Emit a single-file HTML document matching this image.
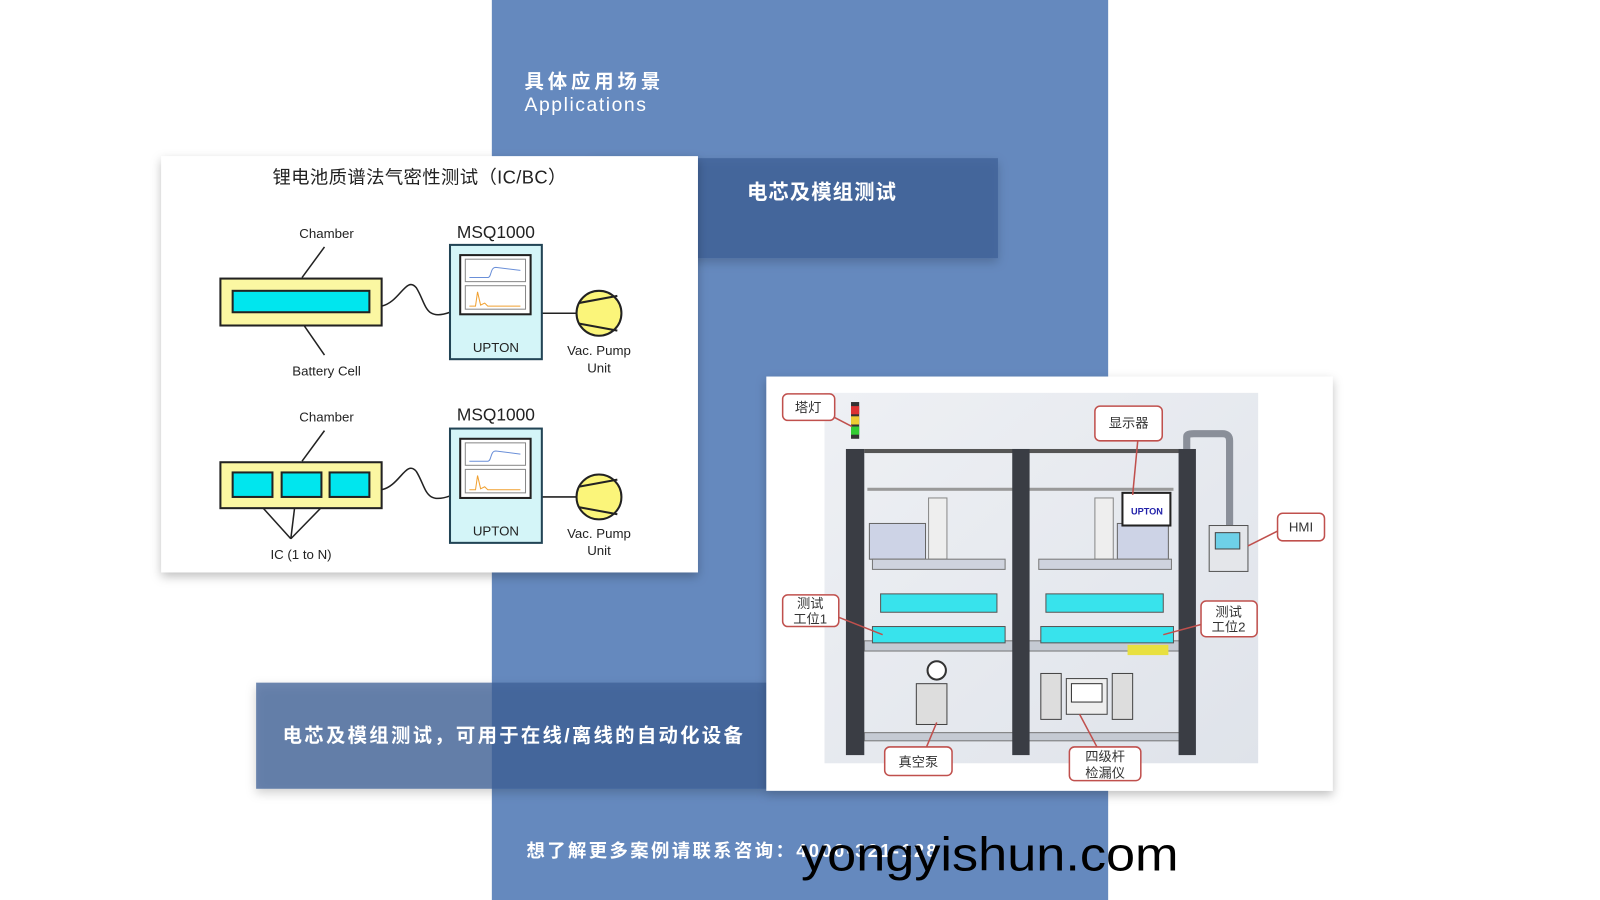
<!DOCTYPE html>
<html><head><meta charset="utf-8"><style>
html,body{margin:0;padding:0;background:#fff;width:1600px;height:900px;overflow:hidden}
svg{display:block}
text{font-family:"Liberation Sans","Noto Sans CJK SC",sans-serif}
</style></head><body>
<svg width="1600" height="900" viewBox="0 0 1568 882" preserveAspectRatio="none" xmlns="http://www.w3.org/2000/svg">
<defs>
<filter id="sh" x="-10%" y="-10%" width="120%" height="130%"><feDropShadow dx="0" dy="4" stdDeviation="5" flood-color="#000" flood-opacity="0.25"/></filter>
<linearGradient id="bg" x1="0" y1="0" x2="1" y2="1"><stop offset="0" stop-color="#eef0f4"/><stop offset="1" stop-color="#dfe3ea"/></linearGradient>
</defs>
<rect width="1568" height="882" fill="#fff"/>
<rect x="482" y="0" width="604" height="882" fill="#6589be"/>
<text x="514" y="86" font-size="19" fill="#fff" font-weight="bold" textLength="133">具体应用场景</text>
<text x="514" y="109" font-size="19" fill="#fff" textLength="119">Applications</text>
<rect x="580" y="155" width="398" height="98" fill="rgba(60,95,150,0.75)" filter="url(#sh)"/>
<text x="732" y="195" font-size="20" fill="#fff" font-weight="bold" textLength="146">电芯及模组测试</text>
<rect x="158" y="153" width="526" height="408" fill="#fff" filter="url(#sh)"/>
<text x="267" y="180" font-size="18" fill="#222" textLength="288">锂电池质谱法气密性测试（IC/BC）</text>
<g stroke="#222" stroke-width="1.5" fill="none">
<line x1="318" y1="242" x2="296" y2="272"/><line x1="298" y1="319" x2="318" y2="348"/>
<path d="M374 300 C392 296,398 270,408 282 C418 298,416 315,441 306"/>
<line x1="531" y1="307" x2="565" y2="307"/>
<line x1="318" y1="422" x2="296" y2="452"/>
<path d="M374 480 C392 476,398 450,408 462 C418 478,416 495,441 486"/>
<line x1="531" y1="487" x2="565" y2="487"/>
<line x1="285" y1="528" x2="248" y2="487"/><line x1="285" y1="528" x2="290" y2="487"/><line x1="285" y1="528" x2="325" y2="487"/>
</g>
<rect x="216" y="273" width="158" height="46" fill="#fbf7a2" stroke="#222" stroke-width="2"/>
<rect x="228" y="285" width="134" height="21" fill="#00e6ee" stroke="#222" stroke-width="2"/>
<rect x="216" y="453" width="158" height="45" fill="#fbf7a2" stroke="#222" stroke-width="2"/>
<rect x="228" y="463" width="39" height="24" fill="#00e6ee" stroke="#222" stroke-width="2"/>
<rect x="276" y="463" width="39" height="24" fill="#00e6ee" stroke="#222" stroke-width="2"/>
<rect x="323" y="463" width="39" height="24" fill="#00e6ee" stroke="#222" stroke-width="2"/>
<g font-size="13" fill="#222" text-anchor="middle">
<text x="320" y="233">Chamber</text><text x="320" y="368">Battery Cell</text>
<text x="320" y="413">Chamber</text><text x="295" y="548">IC (1 to N)</text>
<text x="587" y="348">Vac. Pump</text><text x="587" y="365">Unit</text>
<text x="587" y="527">Vac. Pump</text><text x="587" y="544">Unit</text>
</g>
<g font-size="17" fill="#222" text-anchor="middle"><text x="486" y="233">MSQ1000</text><text x="486" y="412">MSQ1000</text></g>
<g>
<rect x="441" y="240" width="90" height="112" fill="#d4f5f8" stroke="#245" stroke-width="2"/>
<rect x="451" y="250" width="69" height="58" fill="#fff" stroke="#222" stroke-width="2"/>
<rect x="456" y="254" width="59" height="22" fill="#fff" stroke="#888"/><rect x="456" y="280" width="59" height="23" fill="#fff" stroke="#888"/>
<path d="M460 272 H478 C482 272,480 262,486 262 L510 265" stroke="#6a8fd8" fill="none"/>
<path d="M460 300 H466 L468 286 L471 299 L475 297 L478 300 H510" stroke="#f0a030" fill="none"/>
<text x="486" y="345" font-size="13" fill="#222" text-anchor="middle">UPTON</text>
<circle cx="587" cy="307" r="22" fill="#fbf57a" stroke="#222" stroke-width="2"/>
<path d="M567 297 L605 290 M567 317 L605 324" stroke="#222" stroke-width="2"/>
</g>
<g transform="translate(0,180)">
<rect x="441" y="240" width="90" height="112" fill="#d4f5f8" stroke="#245" stroke-width="2"/>
<rect x="451" y="250" width="69" height="58" fill="#fff" stroke="#222" stroke-width="2"/>
<rect x="456" y="254" width="59" height="22" fill="#fff" stroke="#888"/><rect x="456" y="280" width="59" height="23" fill="#fff" stroke="#888"/>
<path d="M460 272 H478 C482 272,480 262,486 262 L510 265" stroke="#6a8fd8" fill="none"/>
<path d="M460 300 H466 L468 286 L471 299 L475 297 L478 300 H510" stroke="#f0a030" fill="none"/>
<text x="486" y="345" font-size="13" fill="#222" text-anchor="middle">UPTON</text>
<circle cx="587" cy="307" r="22" fill="#fbf57a" stroke="#222" stroke-width="2"/>
<path d="M567 297 L605 290 M567 317 L605 324" stroke="#222" stroke-width="2"/>
</g>
<rect x="251" y="669" width="500" height="104" fill="rgba(60,95,150,0.75)" filter="url(#sh)"/>
<text x="277" y="727" font-size="19" fill="#fff" font-weight="bold" textLength="451">电芯及模组测试，可用于在线/离线的自动化设备</text>
<rect x="751" y="369" width="555" height="406" fill="#fff" filter="url(#sh)"/>
<rect x="808" y="385" width="425" height="363" fill="url(#bg)"/>
<g>
<rect x="847" y="440" width="310" height="4" fill="#555"/>
<rect x="850" y="478" width="300" height="3" fill="#999"/>
<rect x="847" y="628" width="310" height="10" fill="#c5cad3" stroke="#777"/>
<rect x="847" y="718" width="310" height="8" fill="#c5cad3" stroke="#777"/>
<rect x="829" y="440" width="18" height="300" fill="#3a3d44"/>
<rect x="992" y="440" width="17" height="300" fill="#3a3d44"/>
<rect x="1155" y="440" width="17" height="300" fill="#3a3d44"/>
<rect x="834" y="394" width="8" height="36" fill="#333"/><rect x="834" y="398" width="8" height="8" fill="#d33"/><rect x="834" y="408" width="8" height="8" fill="#ec3"/><rect x="834" y="418" width="8" height="8" fill="#3c3"/>
<rect x="852" y="513" width="55" height="35" fill="#cdd3e6" stroke="#666"/><rect x="1095" y="513" width="50" height="35" fill="#cdd3e6" stroke="#666"/>
<rect x="910" y="488" width="18" height="60" fill="#eee" stroke="#888"/><rect x="1073" y="488" width="18" height="60" fill="#eee" stroke="#888"/>
<rect x="855" y="548" width="130" height="10" fill="#cfd3de" stroke="#777"/><rect x="1018" y="548" width="130" height="10" fill="#cfd3de" stroke="#777"/>
<rect x="863" y="582" width="114" height="18" fill="#38e3ec" stroke="#555"/>
<rect x="1025" y="582" width="115" height="18" fill="#38e3ec" stroke="#555"/>
<rect x="855" y="614" width="130" height="16" fill="#38e3ec" stroke="#555"/>
<rect x="1020" y="614" width="130" height="16" fill="#38e3ec" stroke="#555"/>
<rect x="1100" y="483" width="47" height="32" fill="#fff" stroke="#222" stroke-width="2"/>
<text x="1124" y="504" font-size="9" fill="#22a" text-anchor="middle" font-weight="bold">UPTON</text>
<path d="M1163 440 V428 Q1163 425,1170 425 H1198 Q1205 425,1205 432 V515" stroke="#8a8f99" stroke-width="7" fill="none"/>
<rect x="1185" y="515" width="38" height="45" fill="#e4e6ea" stroke="#555"/><rect x="1191" y="522" width="24" height="16" fill="#6ed0e8" stroke="#444"/>
<rect x="1105" y="632" width="40" height="10" fill="#e8e040"/>
<rect x="898" y="670" width="30" height="40" fill="#ddd" stroke="#444"/><circle cx="918" cy="657" r="9" fill="#fff" stroke="#333" stroke-width="2"/>
<rect x="1045" y="665" width="40" height="35" fill="#eee" stroke="#444"/><rect x="1050" y="670" width="30" height="18" fill="#fff" stroke="#333"/>
<rect x="1020" y="660" width="20" height="45" fill="#ddd" stroke="#444"/><rect x="1090" y="660" width="20" height="45" fill="#ddd" stroke="#444"/>
</g>
<g stroke="#c0504d" stroke-width="1.5" fill="#fff">
<line x1="810" y1="405" x2="835" y2="418"/><line x1="1115" y1="432" x2="1110" y2="485"/>
<line x1="1253" y1="520" x2="1223" y2="535"/><line x1="822" y1="605" x2="865" y2="622"/>
<line x1="1177" y1="612" x2="1140" y2="622"/><line x1="908" y1="732" x2="918" y2="708"/>
<line x1="1075" y1="732" x2="1058" y2="700"/>
<rect x="767" y="386" width="51" height="26" rx="5"/>
<rect x="1073" y="398" width="66" height="34" rx="5"/>
<rect x="1252" y="503" width="46" height="27" rx="5"/>
<rect x="767" y="583" width="55" height="31" rx="5"/>
<rect x="1177" y="589" width="55" height="35" rx="5"/>
<rect x="867" y="732" width="66" height="28" rx="5"/>
<rect x="1048" y="732" width="70" height="33" rx="5"/>
</g>
<g font-size="13" fill="#333" text-anchor="middle" style="font-family:'Noto Serif CJK SC',serif">
<text x="792" y="404">塔灯</text><text x="1106" y="419">显示器</text>
<text x="1275" y="521" style="font-family:'Liberation Sans',sans-serif">HMI</text>
<text x="794" y="596">测试</text><text x="794" y="611">工位1</text>
<text x="1204" y="604">测试</text><text x="1204" y="619">工位2</text>
<text x="900" y="751">真空泵</text>
<text x="1083" y="746">四级杆</text><text x="1083" y="762">检漏仪</text>
</g>
<text x="516" y="840" font-size="18" fill="#fff" font-weight="bold" textLength="402">想了解更多案例请联系咨询：4000-321-128</text>
<text x="785" y="853" font-size="46" fill="#000" textLength="370" lengthAdjust="spacingAndGlyphs">yongyishun.com</text>
</svg>
</body></html>
